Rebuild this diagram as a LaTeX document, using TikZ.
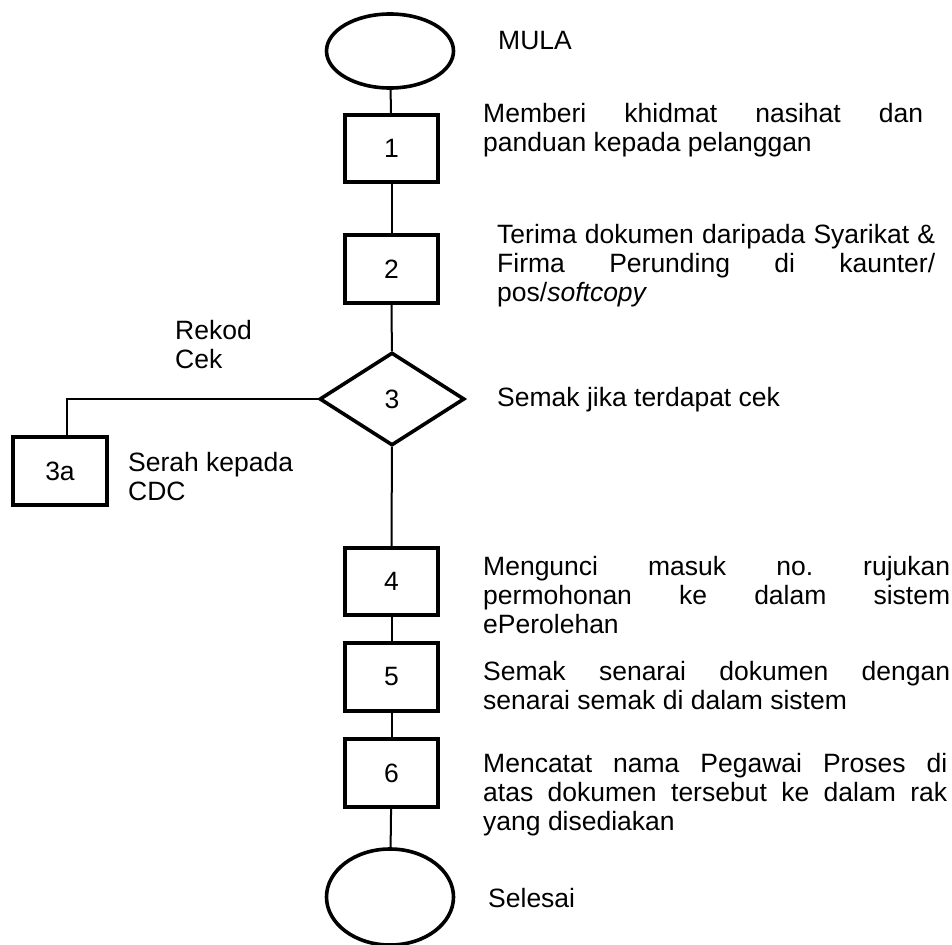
\documentclass[tikz,border=0pt]{standalone}
\usepackage{fontspec}
\setmainfont{Liberation Sans}
\usetikzlibrary{shapes.geometric,calc}
\newcommand{\jlinebox}[2]{\hbox{\makebox[#1][s]{#2}}}
\newcommand{\plainline}[1]{\hbox{#1}}
\newcommand{\blk}[1]{\vtop{\baselineskip=29pt\lineskiplimit=-100pt #1}}
\begin{document}
\begin{tikzpicture}[x=1pt,y=-1pt,
  every node/.style={font=\fontsize{26.5}{29}\selectfont, inner sep=0pt},
  stepbox/.style={draw, line width=3.6pt, minimum width=93.5pt, minimum height=67.5pt},
  term/.style={draw, ellipse, line width=3.6pt, minimum width=127pt},
  decide/.style={draw, diamond, line width=3.6pt, minimum width=145pt, minimum height=93pt},
  lbl/.style={anchor=base west},
  conn/.style={line width=2pt}]
\useasboundingbox (0,0) rectangle (952,944);

\node[term, minimum height=74pt] (start) at (390,51) {};
\node[stepbox] (b1) at (391.5,148.5) {1};
\node[stepbox] (b2) at (391.5,269) {2};
\node[decide] (d3) at (392,399) {3};
\node[stepbox] (b3a) at (60,471) {3a};
\node[stepbox] (b4) at (391.5,581.5) {4};
\node[stepbox] (b5) at (391.5,677) {5};
\node[stepbox] (b6) at (391.5,773) {6};
\node[term, minimum height=96pt] (end) at (390,897) {};

\coordinate (br) at ($(b3a.north)+(7,0)$);

\draw[conn] (start) -- (b1);
\draw[conn] (b1) -- (b2);
\draw[conn] (b2) -- (d3);
\draw[conn] (d3) -- (b4);
\draw[conn] (b4) -- (b5);
\draw[conn] (b5) -- (b6);
\draw[conn] (b6) -- (end);
\draw[conn] (d3.west) -| (br);

\node[lbl] (tmula) at (498,50) {MULA};
\node[lbl] (t1) at (483,123) {\blk{\jlinebox{440pt}{Memberi khidmat nasihat dan}\plainline{panduan kepada pelanggan}}};
\node[lbl] (t2) at (497,243) {\blk{\jlinebox{438pt}{Terima dokumen daripada Syarikat \&}\jlinebox{438pt}{Firma Perunding di kaunter/}\plainline{pos/\textit{softcopy}}}};
\node[lbl] (t3) at (497,406) {Semak jika terdapat cek};
\node[lbl] (trekod) at (175,339) {\blk{\plainline{Rekod}\plainline{Cek}}};
\node[lbl] (t3a) at (128,471) {\blk{\plainline{Serah kepada}\plainline{CDC}}};
\node[lbl] (t4) at (483,575) {\blk{\jlinebox{467pt}{Mengunci masuk no.\ rujukan}\jlinebox{467pt}{permohonan ke dalam sistem}\plainline{ePerolehan}}};
\node[lbl] (t5) at (483,680) {\blk{\jlinebox{467pt}{Semak senarai dokumen dengan}\plainline{senarai semak di dalam sistem}}};
\node[lbl] (t6) at (483,772) {\blk{\jlinebox{464pt}{Mencatat nama Pegawai Proses di}\jlinebox{464pt}{atas dokumen tersebut ke dalam rak}\plainline{yang disediakan}}};
\node[lbl] (tend) at (488,907) {Selesai};
\end{tikzpicture}
\end{document}
